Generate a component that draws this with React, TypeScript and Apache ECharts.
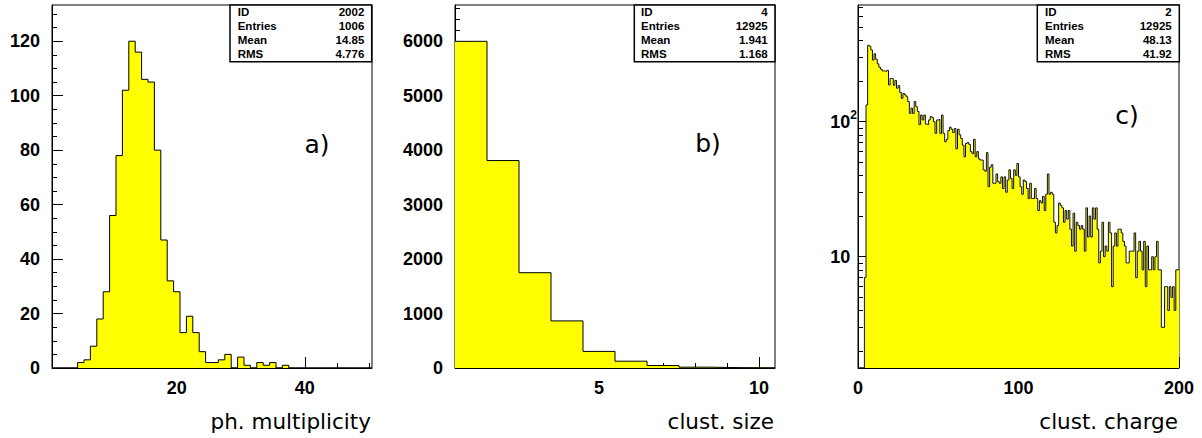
import React, { useEffect, useRef } from "react";
import * as echarts from "echarts";

// ---- histogram a): photon multiplicity, 50 unit bins from 0.5 to 50.5 ----
const multRange = [0.5, 50.5];
const multCounts = [
  0, 0, 0, 0, 2, 3, 8, 18, 28, 56,
  78, 102, 120, 116, 106, 105, 80, 47, 32, 28,
  13, 19, 13, 6, 2, 2, 3, 5, 0, 4,
  1, 0, 2, 1, 2, 0, 1, 0, 0, 0,
  0, 0, 0, 0, 0, 0, 0, 0, 0, 0,
];
const multYMax = 133.3;
const multYLabels = [0, 20, 40, 60, 80, 100, 120];
const multYMinor = [5, 10, 15, 25, 30, 35, 45, 50, 55, 65, 70, 75, 85, 90, 95, 105, 110, 115, 125, 130];
const multXLabels = [20, 40];
const multXMinor = [5, 10, 15, 25, 30, 35, 45, 50];
const multStats = [["ID", "2002"], ["Entries", "1006"], ["Mean", "14.85"], ["RMS", "4.776"]];

// ---- histogram b): cluster size, 10 unit bins from 0.5 to 10.5 ----
const sizeRange = [0.5, 10.5];
const sizeCounts = [6000, 3810, 1750, 865, 305, 125, 45, 15, 6, 2];
const sizeYMax = 6667;
const sizeYLabels = [0, 1000, 2000, 3000, 4000, 5000, 6000];
const sizeYMinor = [
  200, 400, 600, 800, 1200, 1400, 1600, 1800, 2200, 2400, 2600, 2800,
  3200, 3400, 3600, 3800, 4200, 4400, 4600, 4800, 5200, 5400, 5600, 5800, 6200, 6400, 6600,
];
const sizeXLabels = [5, 10];
const sizeXMinor = [1, 2, 3, 4, 6, 7, 8, 9];
const sizeStats = [["ID", "4"], ["Entries", "12925"], ["Mean", "1.941"], ["RMS", "1.168"]];

// ---- histogram c): cluster charge, 200 unit bins from 0 to 200, log scale ----
const chargeRange = [0, 200];
const chargeCounts = [
  0, 0, 0, 0, 7, 133, 368, 362, 340, 286,
  318, 290, 268, 253, 245, 238, 237, 236, 240, 187,
  209, 208, 186, 202, 177, 185, 165, 149, 162, 158,
  153, 141, 115, 126, 115, 141, 129, 119, 95, 112,
  103, 112, 96, 95, 103, 109, 107, 100, 82, 103,
  104, 82, 112, 82, 71, 74, 86, 91, 88, 83,
  89, 63, 88, 80, 75, 67, 55, 69, 70, 68,
  60, 58, 74, 55, 60, 53, 52, 52, 44, 43,
  59, 33, 46, 48, 35, 35, 41, 36, 35, 39,
  32, 39, 30, 37, 44, 38, 32, 44, 40, 49,
  39, 33, 29, 37, 36, 32, 27, 35, 27, 27,
  32, 27, 22, 26, 25, 28, 22, 29, 41, 29,
  30, 29, 18, 15, 17, 25, 24, 23, 18, 22,
  19, 22, 16, 12, 21, 11, 18, 17, 16, 17,
  16, 11, 23, 14, 20, 14, 23, 19, 23, 16,
  9, 11, 18, 10, 12, 11, 18, 15, 6, 12,
  15, 12, 16, 16, 15, 13, 12, 9, 9, 11,
  11, 11, 15, 7, 11, 13, 11, 8, 13, 6,
  12, 8, 8, 10, 8, 10, 13, 8, 8, 3,
  3, 6, 6, 4, 6, 5, 6, 4, 8, 8,
];
const chargeYMin = 1.5;
const chargeYMax = 731;
const chargeYLabels = [10, 100];
const chargeYMinor = [2, 3, 4, 5, 6, 7, 8, 9, 20, 30, 40, 50, 60, 70, 80, 90, 200, 300, 400, 500, 600, 700];
const chargeXLabels = [0, 100, 200];
const chargeXMinor = [20, 40, 60, 80, 120, 140, 160, 180];
const chargeStats = [["ID", "2"], ["Entries", "12925"], ["Mean", "48.13"], ["RMS", "41.92"]];

const HIST_FILL = "#ffff00";
const TICK_FONT = { fontFamily: "Liberation Sans", fontSize: 18, fontWeight: "bold" as const, color: "#000" };
const TITLE_FONT = '21.5px "DejaVu Sans"';
const LETTER_FONT = '25px "DejaVu Sans"';
const STAT_FONT = 'bold 11.5px "Liberation Sans"';

const plain = (v: number) => String(v);

// Left bin edges with their contents, closed by the right edge of the last bin.
function stepPoints(counts: number[], start: number, width: number, floor = -Infinity) {
  const pts = counts.map((c, i) => [start + i * width, Math.max(c, floor)]);
  pts.push([start + counts.length * width, Math.max(counts[counts.length - 1], floor)]);
  return pts;
}

function xAxes(gridIndex: number, range: number[], labels: number[], minor: number[], labelOpts: any = {}) {
  const base = { type: "value", gridIndex, min: range[0], max: range[1], position: "bottom", splitLine: { show: false } };
  return [
    {
      ...base,
      axisLine: { show: true, onZero: false, lineStyle: { color: "#000", width: 1 } },
      axisTick: { show: true, inside: true, length: 11, customValues: labels, lineStyle: { color: "#000", width: 1 } },
      axisLabel: { show: true, customValues: labels, margin: 11, formatter: plain, ...TICK_FONT, ...labelOpts },
    },
    {
      ...base,
      axisLine: { show: false },
      axisTick: { show: true, inside: true, length: 5, customValues: minor, lineStyle: { color: "#000", width: 1 } },
      axisLabel: { show: false },
    },
  ];
}

function yAxes(gridIndex: number, type: string, min: number, max: number, labels: number[], minor: number[], labelOpts: any = {}) {
  const base: any = { type, gridIndex, min, max, position: "left", splitLine: { show: false } };
  if (type === "log") base.logBase = 10;
  return [
    {
      ...base,
      axisLine: { show: true, onZero: false, lineStyle: { color: "#000", width: 1 } },
      axisTick: { show: true, inside: true, length: 11, customValues: labels, lineStyle: { color: "#000", width: 1 } },
      axisLabel: { show: true, customValues: labels, margin: 12, formatter: plain, ...TICK_FONT, ...labelOpts },
    },
    {
      ...base,
      axisLine: { show: false },
      axisTick: { show: true, inside: true, length: 5, customValues: minor, lineStyle: { color: "#000", width: 1 } },
      axisLabel: { show: false },
    },
  ];
}

function histSeries(axisIndex: number, data: number[][], lineColor = "#000") {
  return {
    type: "line",
    xAxisIndex: axisIndex,
    yAxisIndex: axisIndex,
    step: "end",
    symbol: "none",
    data,
    lineStyle: { color: lineColor, width: 1 },
    areaStyle: { color: HIST_FILL, opacity: 1, origin: "start" },
    silent: true,
    z: 2,
  };
}

function statBox(x: number, y: number, w: number, rows: string[][], textLeft: number, textRight: number) {
  const els: any[] = [
    {
      type: "rect",
      shape: { x, y, width: w, height: 56.7 },
      style: { fill: "#fff", stroke: "#000", lineWidth: 1.5 },
      z: 10,
    },
  ];
  rows.forEach((r, i) => {
    const cy = 12.3 + i * 14;
    els.push({
      type: "text",
      x: textLeft,
      y: cy,
      z: 11,
      style: { text: r[0], font: STAT_FONT, fill: "#000", textAlign: "left", textVerticalAlign: "middle" },
    });
    els.push({
      type: "text",
      x: textRight,
      y: cy,
      z: 11,
      style: { text: r[1], font: STAT_FONT, fill: "#000", textAlign: "right", textVerticalAlign: "middle" },
    });
  });
  return els;
}

function label(text: string, x: number, y: number, font: string, align: string) {
  return {
    type: "text",
    x,
    y,
    z: 11,
    style: { text, font, fill: "#000", textAlign: align, textVerticalAlign: "middle" },
  };
}

export default function App() {
  const ref = useRef<HTMLDivElement>(null);

  useEffect(() => {
    if (!ref.current) return;
    const chart = echarts.init(ref.current, undefined, { renderer: "svg" });

    const grids = [
      { left: 52, top: 5, width: 320, height: 363 },
      { left: 455, top: 5, width: 320, height: 363 },
      { left: 858, top: 5, width: 321, height: 363 },
    ].map((g) => ({ ...g, show: true, borderColor: "#000", borderWidth: 1, backgroundColor: "transparent" }));

    const supRich = {
      b: { ...TICK_FONT, lineHeight: 26, verticalAlign: "middle" },
      s: { ...TICK_FONT, fontSize: 12, lineHeight: 12, verticalAlign: "top" },
      h: { ...TICK_FONT, fontSize: 12, lineHeight: 12, verticalAlign: "top", color: "rgba(0,0,0,0)" },
    };

    const option: any = {
      animation: false,
      backgroundColor: "#fff",
      grid: grids,
      xAxis: [
        ...xAxes(0, multRange, multXLabels, multXMinor),
        ...xAxes(1, sizeRange, sizeXLabels, sizeXMinor),
        ...xAxes(2, chargeRange, chargeXLabels, chargeXMinor),
      ],
      yAxis: [
        ...yAxes(0, "value", 0, multYMax, multYLabels, multYMinor),
        ...yAxes(1, "value", 0, sizeYMax, sizeYLabels, sizeYMinor),
        ...yAxes(2, "log", chargeYMin, chargeYMax, chargeYLabels, chargeYMinor, {
          margin: 1,
          formatter: (v: number) => (Math.round(v) === 100 ? "{b|10}{s|2}" : "{b|10}{h|2}"),
          rich: supRich,
        }),
      ],
      series: [
        histSeries(0, stepPoints(multCounts, multRange[0], 1)),
        histSeries(2, stepPoints(sizeCounts, sizeRange[0], 1)),
        histSeries(4, stepPoints(chargeCounts, chargeRange[0], 1, chargeYMin), "#111"),
      ],
      graphic: [
        ...statBox(230, 5, 141.7, multStats, 237.7, 364.3),
        ...statBox(634.3, 5, 140.7, sizeStats, 641, 767.7),
        ...statBox(1037.3, 5, 142, chargeStats, 1045, 1171.7),
        label("a)", 317, 144, LETTER_FONT, "center"),
        label("b)", 708, 143, LETTER_FONT, "center"),
        label("c)", 1127, 115, LETTER_FONT, "center"),
        label("ph. multiplicity", 371, 421, TITLE_FONT, "right"),
        label("clust. size", 774, 421, TITLE_FONT, "right"),
        label("clust. charge", 1178, 421, TITLE_FONT, "right"),
      ],
    };

    chart.setOption(option);
    return () => chart.dispose();
  }, []);

  return <div ref={ref} style={{ position: "fixed", left: 0, top: 0, width: 1202, height: 438 }} />;
}
